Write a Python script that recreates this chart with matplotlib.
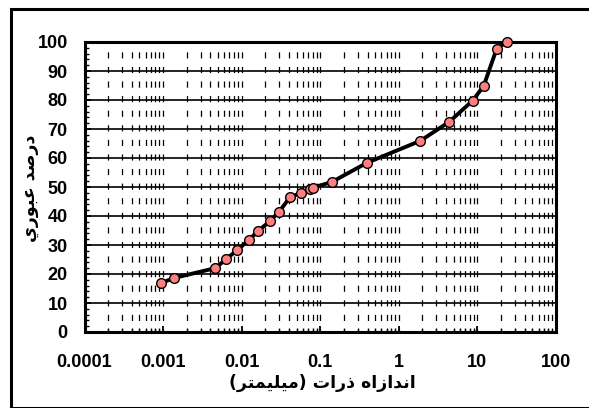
import matplotlib
matplotlib.use("Agg")
import matplotlib.pyplot as plt
from matplotlib.patches import Rectangle
from matplotlib.ticker import LogLocator, FixedLocator, FixedFormatter, MultipleLocator, NullFormatter

# grain size (mm) vs percent passing
size_mm = [0.00094, 0.00136, 0.0046, 0.0064, 0.0088, 0.0123, 0.0162, 0.0228, 0.030,
           0.041, 0.057, 0.073, 0.081, 0.14, 0.39, 1.87, 4.4, 8.7, 12.0, 17.6, 23.6]
passing = [16.8, 18.6, 22.0, 25.2, 28.3, 31.7, 34.8, 38.2, 41.5,
           46.4, 48.0, 49.2, 49.8, 51.7, 58.3, 65.9, 72.5, 79.8, 84.8, 97.7, 100.0]

x_ticks = [0.0001, 0.001, 0.01, 0.1, 1, 10, 100]
x_ticklabels = ["0.0001", "0.001", "0.01", "0.1", "1", "10", "100"]

# Persian labels, pre-shaped (presentation forms, visual order) since matplotlib
# does no arabic shaping:  "اندازه ذرات (میلیمتر)"  and  "درصد عبوری"
xlabel = ("(\uFEAE\uFE98\uFEE4\uFEF4\uFEE0\uFEF4\uFEE3) "
          "\uFE95\uFE8D\uFEAD\uFEAB "
          "\uFEE9\uFE8D\uFEAF\uFE8D\uFEAA\uFEE7\uFE8D")
ylabel = ("\uFEF1\uFEAD\uFEEE\uFE92\uFECB "
          "\uFEAA\uFEBB\uFEAD\uFEA9")

plt.rcParams["font.family"] = ["Liberation Sans", "DejaVu Sans"]
plt.rcParams["lines.scale_dashes"] = False

W, H = 589, 408
fig = plt.figure(figsize=(W / 100, H / 100), dpi=100)
ax = fig.add_axes([84.5 / W, 76 / H, 471.5 / W, 290 / H])

ax.plot(size_mm, passing, color="black", lw=2.8, marker="o", ms=7,
        mfc="#FF7F7F", mec="black", mew=1.0, clip_on=False, zorder=5)

ax.set_xscale("log")
ax.set_xlim(0.0001, 100)
ax.set_ylim(0, 100)

ax.xaxis.set_major_locator(FixedLocator(x_ticks))
ax.xaxis.set_major_formatter(FixedFormatter(x_ticklabels))
ax.xaxis.set_minor_locator(LogLocator(base=10, subs=range(2, 10), numticks=20))
ax.xaxis.set_minor_formatter(NullFormatter())
ax.yaxis.set_major_locator(MultipleLocator(10))
ax.yaxis.set_minor_locator(MultipleLocator(2))

# grid
ax.yaxis.grid(True, which="major", color="black", lw=1.2)
ax.xaxis.grid(True, which="both", color="black", lw=0.9, ls=(2.2, (4.4, 6.1)))
ax.set_axisbelow(True)

for s in ax.spines.values():
    s.set_linewidth(2.2)

ax.tick_params(axis="both", which="major", direction="in", length=4, width=1.3,
               labelsize=13)
ax.tick_params(axis="both", which="minor", direction="in", length=3, width=1.0)
ax.tick_params(axis="x", which="major", pad=16)
ax.tick_params(axis="y", which="major", pad=12)
for lab in ax.get_xticklabels() + ax.get_yticklabels():
    lab.set_fontweight("bold")

fig.text(322 / W, 1 - 383 / H, xlabel, ha="center", va="center",
         fontsize=12.5, fontweight="bold", family=["DejaVu Sans"])
fig.text(30 / W, 1 - 188 / H, ylabel, ha="center", va="center", rotation=90,
         fontsize=12.5, fontweight="bold", family=["DejaVu Sans"])

# outer chart frame (right side falls off the image)
fig.patches.append(Rectangle((10.5 / W, 0.5 / H), 1.1, (399.5 - 0.5) / H,
                             transform=fig.transFigure, fill=False,
                             ec="black", lw=2.2, zorder=0))

fig.savefig("out.png", dpi=100)
